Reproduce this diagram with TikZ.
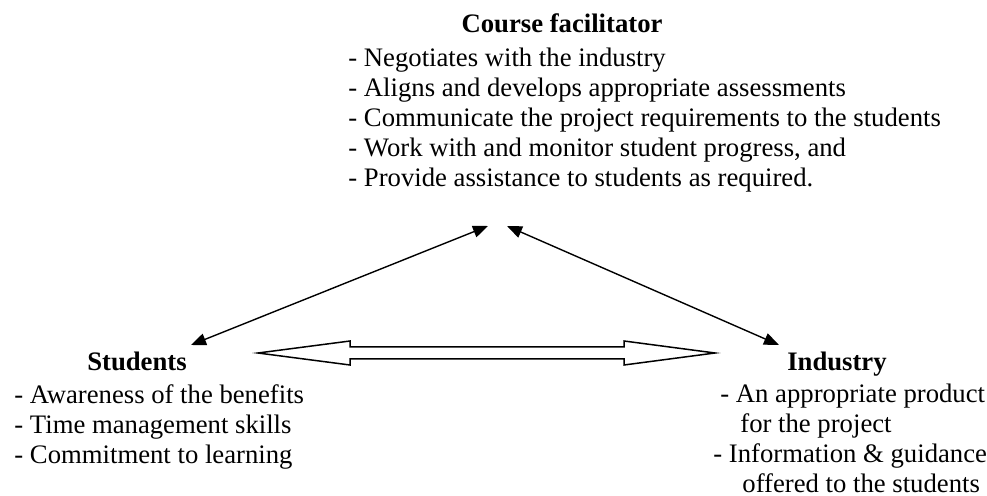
\documentclass[tikz,border=0pt]{standalone}
\usepackage{fontspec}
\setmainfont{Liberation Serif}
\usetikzlibrary{arrows.meta,positioning,calc}
\tikzset{
  body/.style={inner sep=0pt,align=left,font=\fontsize{13.35}{15}\selectfont},
  role/.style={body,anchor=base,font=\fontsize{13.35}{15}\selectfont\bfseries},
  duties/.style={body,anchor=north west},
  link/.style={{Triangle[length=7.5pt,width=6pt]}-{Triangle[length=7.5pt,width=6pt]},line width=0.7pt},
  hollow/.style={draw,line width=0.75pt,fill=white,line join=miter}
}
\begin{document}
\begin{tikzpicture}[x=0.5pt,y=-0.5pt]
  \useasboundingbox[fill=white] (0,0) rectangle (987,496);
  % the three parties
  \node[role] (fac) at (562,33) {Course facilitator};
  \node[duties] (facjobs) at (348,48) {- Negotiates with the industry\\
    - Aligns and develops appropriate assessments\\
    - Communicate the project requirements to the students\\
    - Work with and monitor student progress, and\\
    - Provide assistance to students as required.};
  \node[role] (stu) at (137,371) {Students};
  \node[duties] (stujobs) at (14,384) {- Awareness of the benefits\\
    - Time management skills\\
    - Commitment to learning};
  \node[role] (ind) at (837,371) {Industry};
  \node[duties] (indjobs) at (713,384) {\hspace{3.5pt}- An appropriate product\\
    \hspace{13.5pt}for the project\\
    - Information \& guidance\\
    \hspace{14.5pt}offered to the students};
  % arrow ends
  \coordinate (apexL) at (488,226);
  \coordinate (apexR) at (507,226);
  \coordinate (stutip) at (191,345);
  \coordinate (indtip) at (779,345);
  \coordinate (mid) at (486.5,353);
  \draw[link] (stutip) -- (apexL);
  \draw[link] (apexR) -- (indtip);
  % hollow double arrow students <-> industry
  \draw[hollow] ($(mid)+(-228.5,0)$) -- ++(92,-12) -- ++(0,6) -- ++(274,0) -- ++(0,-6)
    -- ++(91,12) -- ++(-91,12) -- ++(0,-6) -- ++(-274,0) -- ++(0,6) -- cycle;
\end{tikzpicture}
\end{document}
